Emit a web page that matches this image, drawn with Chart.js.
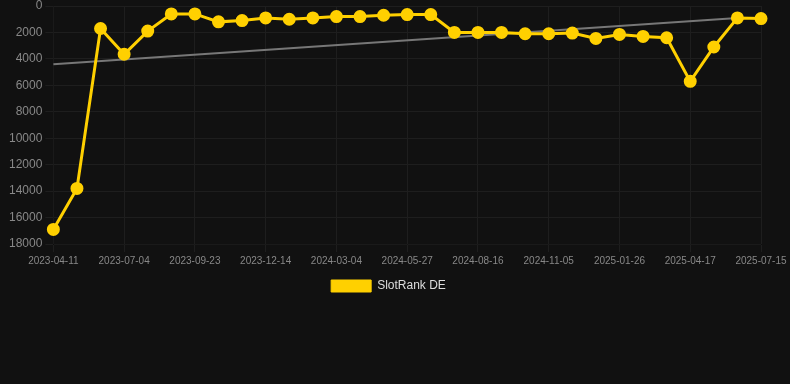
<!DOCTYPE html>
<html lang="en">
<head>
  <meta charset="UTF-8">
  <title>SlotRank DE</title>
  <script src="https://cdn.jsdelivr.net/npm/chart.js"></script>
  <style>
    body {
      margin: 0;
      background-color: #111111;
      font-family: Arial, "Liberation Sans", sans-serif;
    }
    #wrap {
      width: 790px;
      height: 302px;
    }
  </style>
</head>
<body>

<div id="wrap"><canvas id="rankChart"></canvas></div>

<script>
  const labels = [
    "2023-04-11", "2023-05-09", "2023-06-06", "2023-07-04", "2023-08-01", "2023-08-29",
    "2023-09-23", "2023-10-21", "2023-11-18", "2023-12-14", "2024-01-11", "2024-02-08",
    "2024-03-04", "2024-04-01", "2024-04-29", "2024-05-27", "2024-06-24", "2024-07-22",
    "2024-08-16", "2024-09-13", "2024-10-11", "2024-11-05", "2024-12-03", "2024-12-31",
    "2025-01-26", "2025-02-23", "2025-03-23", "2025-04-17", "2025-05-15", "2025-06-12",
    "2025-07-15"
  ];
  const rankDE = [
    16900, 13800, 1700, 3650, 1900, 600, 600, 1200, 1100, 900, 1000, 900,
    800, 800, 700, 650, 650, 2000, 2000, 2000, 2100, 2100, 2050, 2450,
    2150, 2300, 2400, 5700, 3100, 900, 950
  ];
  // trend line: only the two end values
  const trend = labels.map(() => null);
  trend[0] = 4400;
  trend[29] = 900;

  // nudge the legend a bit to the right, like the original
  const legendShift = {
    id: "legendShift",
    afterLayout(chart) {
      if (chart.legend) chart.legend.left += 10;
    }
  };

  const ctx = document.getElementById("rankChart").getContext("2d");
  new Chart(ctx, {
    type: "line",
    data: {
      labels: labels,
      datasets: [{
        label: "SlotRank DE",
        data: rankDE,
        borderColor: "#ffd000",
        backgroundColor: "#ffd000",
        borderWidth: 3,
        pointRadius: 5,
        pointHoverRadius: 6,
        tension: 0,
        order: 1
      }, {
        label: "trend",
        data: trend,
        borderColor: "#777777",
        borderWidth: 2,
        pointRadius: 0,
        spanGaps: true,
        order: 2
      }]
    },
    plugins: [legendShift],
    options: {
      responsive: true,
      maintainAspectRatio: false,
      animation: false,
      layout: { autoPadding: false, padding: { left: 6, right: 29, top: 0 } },
      plugins: {
        legend: {
          position: "bottom",
          labels: {
            color: "#dddddd",
            font: { size: 12 },
            boxWidth: 40,
            boxHeight: 12,
            generateLabels: chart =>
              Chart.defaults.plugins.legend.labels.generateLabels(chart)
                .filter(item => item.text !== "trend")
                .map(item => ({ ...item, lineWidth: 1 }))
          }
        },
        tooltip: { enabled: false }
      },
      scales: {
        x: {
          grid: { color: "#1e1e1e" },
          ticks: {
            color: "#888888",
            font: { size: 10 },
            maxRotation: 0,
            autoSkip: true,
            maxTicksLimit: 11
          }
        },
        y: {
          reverse: true,
          min: 0,
          max: 18000,
          grid: { color: "#1e1e1e" },
          ticks: {
            stepSize: 2000,
            color: "#888888",
            font: { size: 12, lineHeight: 0.5 },
            callback: v => String(v)
          }
        }
      }
    }
  });
</script>

</body>
</html>
